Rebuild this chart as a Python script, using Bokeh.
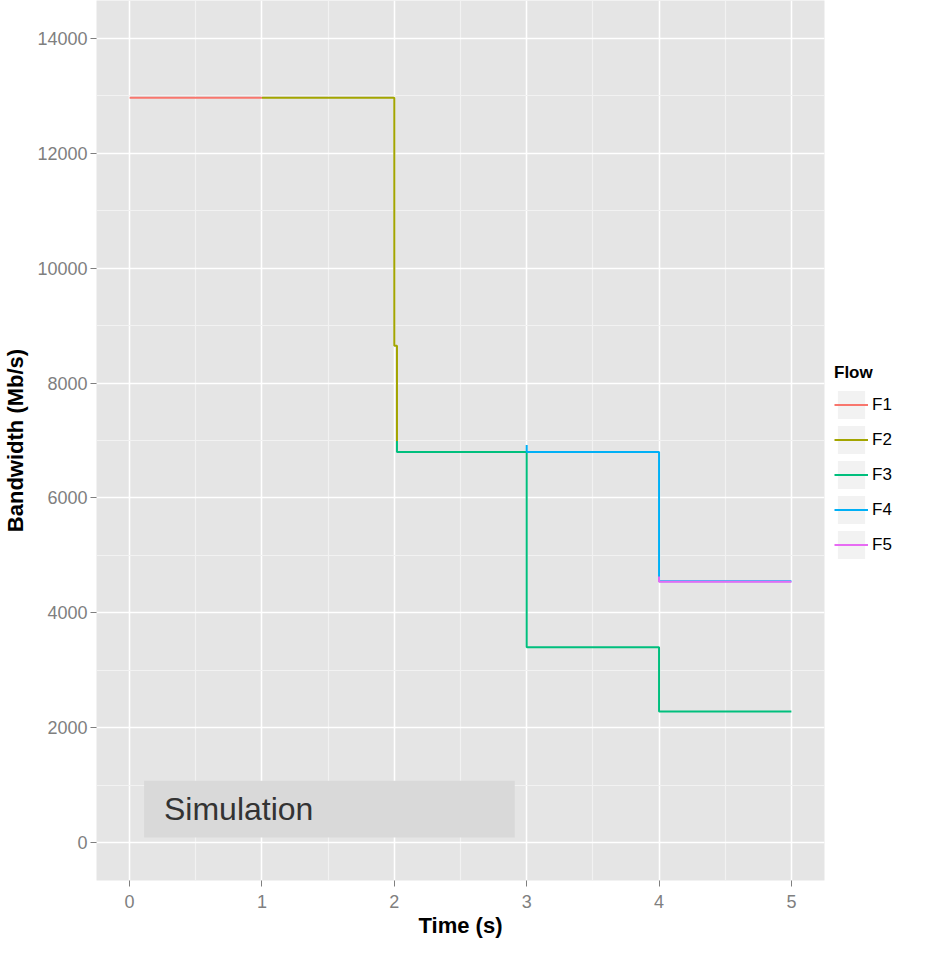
from bokeh.plotting import figure
from bokeh.models import (Range1d, SingleIntervalTicker, Legend, LegendItem,
                          ColumnDataSource, Label, BoxAnnotation)
from bokeh.embed import file_html
from bokeh.resources import INLINE

FONT = "Liberation Sans"

# ---- data (step change points) ----
flows = ["F1", "F2", "F3", "F4", "F5"]
colors = ["#F8766D", "#A3A500", "#00BF7D", "#00B0F6", "#E76BF3"]

f1_t = [0, 1]
f1_bw = [12970, 12970]

f2_t = [1, 2, 2.02, 2.02]
f2_bw = [12970, 8650, 6990, 6990]

f3_t = [2.02, 2.02, 3, 4, 5]
f3_bw = [6990, 6800, 3400, 2280, 2280]

f4_t = [3, 3, 4, 5]
f4_bw = [6920, 6800, 4550, 4550]

f5_t = [4, 4, 5]
f5_bw = [4630, 4540, 4540]

series_t = [f1_t, f2_t, f3_t, f4_t, f5_t]
series_bw = [f1_bw, f2_bw, f3_bw, f4_bw, f5_bw]

p = figure(frame_width=728, frame_height=880,
           x_range=Range1d(-0.25, 5.25), y_range=Range1d(-663, 14662),
           output_backend="svg", toolbar_location=None,
           min_border_left=92, min_border_top=0, min_border_right=0,
           min_border_bottom=0,
           background_fill_color="#E5E5E5", border_fill_color="white",
           outline_line_color=None)

p.xaxis.ticker = SingleIntervalTicker(interval=1, num_minor_ticks=2)
p.yaxis.ticker = SingleIntervalTicker(interval=2000, num_minor_ticks=2)

for g in (p.xgrid[0], p.ygrid[0]):
    g.grid_line_color = "white"
    g.grid_line_width = 1.5
    g.minor_grid_line_color = "#F2F2F2"
    g.minor_grid_line_width = 1.2

for ax in (p.xaxis[0], p.yaxis[0]):
    ax.axis_line_color = None
    ax.major_tick_line_color = "#7F7F7F"
    ax.major_tick_line_width = 1
    ax.major_tick_in = 0
    ax.major_tick_out = 6
    ax.minor_tick_line_color = None
    ax.major_label_text_color = "#7F7F7F"
    ax.major_label_text_font = FONT
    ax.major_label_text_font_size = "18px"
    ax.axis_label_text_font = FONT
    ax.axis_label_text_font_size = "22px"
    ax.axis_label_text_font_style = "bold"
    ax.axis_label_text_color = "black"

p.xaxis.axis_label = "Time (s)"
p.yaxis.axis_label = "Bandwidth (Mb/s)"
p.xaxis.major_label_standoff = 8
p.xaxis.axis_label_standoff = 2
p.yaxis.major_label_standoff = 3
p.yaxis.axis_label_standoff = 6

# annotation box
p.add_layout(BoxAnnotation(left=0.11, right=2.91, bottom=85, top=1075,
                           fill_color="#D9D9D9", fill_alpha=1.0,
                           line_color=None))
p.add_layout(Label(x=0.26, y=578, text="Simulation", text_baseline="middle",
                   text_font=FONT, text_font_size="32px",
                   text_color="#333333"))

items = []
for name, col, t, bw in zip(flows, colors, series_t, series_bw):
    src = ColumnDataSource(dict(t=t, bw=bw))
    r = p.step("t", "bw", source=src, mode="after", line_color=col,
               line_width=2)
    # zero-size helper glyph: only gives the legend key its grey box
    box = p.rect(x=t[:1], y=bw[:1], width=0, height=0,
                 fill_color="#F2F2F2", line_color=None)
    items.append(LegendItem(label=name, renderers=[box, r]))

legend = Legend(items=items, location=(10, 318), title="Flow",
                title_text_font=FONT, title_text_font_style="bold",
                title_text_font_size="17px", title_standoff=4,
                title_text_color="black",
                label_text_font=FONT, label_text_font_size="17px",
                label_text_color="black",
                glyph_width=34, glyph_height=35, spacing=0,
                label_standoff=4, padding=2, margin=0,
                background_fill_alpha=0, border_line_color=None)
p.add_layout(legend, "right")

open("out.html", "w").write(file_html(p, INLINE))
